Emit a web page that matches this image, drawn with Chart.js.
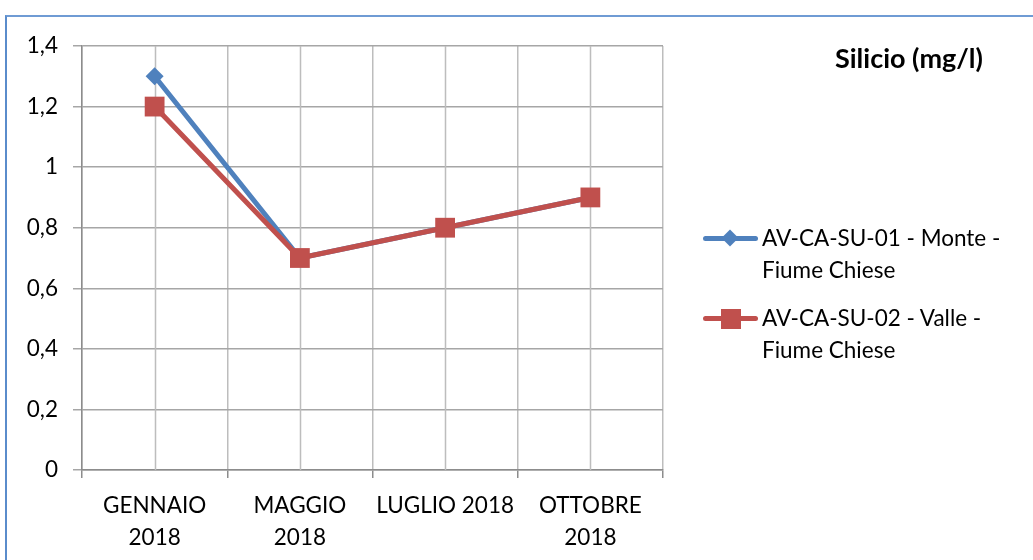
<!DOCTYPE html>
<html>
<head>
<meta charset="utf-8">
<script src="https://cdn.jsdelivr.net/npm/chart.js@4"></script>
<style>
  body { margin: 0; background: #fff; font-family: Lato, 'Open Sans', sans-serif; }
  #wrap { position: relative; width: 1033px; height: 560px; overflow: hidden; }
  #frame { position: absolute; left: 5px; top: 15px; width: 1100px; height: 600px;
           border-left: 2px solid #5a8ccb; border-top: 2px solid #6f9bd4; }
  #grafik { position: absolute; left: 0; top: 0; }
  #titolo { position: absolute; left: 759px; top: 41px; width: 300px; text-align: center;
            font-size: 27px; font-weight: bold; color: #000; }
  .leg { position: absolute; left: 703px; font-size: 22.5px; line-height: 32px; color: #000; }
  .leg .linea { position: absolute; left: 0; top: 14px; width: 55px; height: 5px; border-radius: 3px; }
  .leg .mark { position: absolute; }
  .leg .testo { margin-left: 59px; white-space: nowrap; }
</style>
</head>
<body>
<div id="wrap">
  <div id="frame"></div>
  <canvas id="grafik" width="1033" height="560"></canvas>
  <div id="titolo">Silicio (mg/l)</div>
  <div class="leg" style="top:222px">
    <div class="linea" style="background:#4f81bd"></div>
    <div class="mark" style="left:21px;top:10px;width:12px;height:12px;background:#4f81bd;transform:rotate(45deg)"></div>
    <div class="testo" id="leg1"></div>
  </div>
  <div class="leg" style="top:302px">
    <div class="linea" style="background:#c0504d"></div>
    <div class="mark" style="left:18px;top:7px;width:20px;height:20px;background:#c0504d"></div>
    <div class="testo" id="leg2"></div>
  </div>
</div>
<script>
// Dati
const categorie = [['GENNAIO', '2018'], ['MAGGIO', '2018'], 'LUGLIO 2018', ['OTTOBRE', '2018']];
const nomeMonte = ['AV-CA-SU-01 - Monte -', 'Fiume Chiese'];
const nomeValle = ['AV-CA-SU-02 - Valle -', 'Fiume Chiese'];
const valoriMonte = [1.3, 0.7, 0.8, 0.9];
const valoriValle = [1.2, 0.7, 0.8, 0.9];
const yTicks = [0, 0.2, 0.4, 0.6, 0.8, 1, 1.2, 1.4];
const yTickLabels = ['0', '0,2', '0,4', '0,6', '0,8', '1', '1,2', '1,4'];

document.getElementById('leg1').innerHTML = nomeMonte.join('<br>');
document.getElementById('leg2').innerHTML = nomeValle.join('<br>');

// linee verticali al centro di ogni categoria
const lineeCentro = {
    id: 'lineeCentro',
    beforeDatasetsDraw(chart) {
        const { ctx, chartArea, scales } = chart;
        ctx.save();
        ctx.strokeStyle = '#bdbdbd';
        ctx.lineWidth = 1.5;
        categorie.forEach((c, i) => {
            const x = Math.round(scales.x.getPixelForValue(i)) + 0.5;
            ctx.beginPath();
            ctx.moveTo(x, chartArea.top);
            ctx.lineTo(x, chartArea.bottom);
            ctx.stroke();
        });
        ctx.restore();
    }
};

const ctx = document.getElementById('grafik').getContext('2d');
new Chart(ctx, {
    type: 'line',
    data: {
        labels: categorie,
        datasets: [{
            label: nomeValle.join(' '),
            data: valoriValle,
            borderColor: '#c0504d',
            backgroundColor: '#c0504d',
            borderWidth: 5,
            pointStyle: 'rect',
            pointRadius: 14,
            pointBorderWidth: 0,
            tension: 0,
            order: 1
        }, {
            label: nomeMonte.join(' '),
            data: valoriMonte,
            borderColor: '#4f81bd',
            backgroundColor: '#4f81bd',
            borderWidth: 5,
            pointStyle: 'rectRot',
            pointRadius: 9,
            pointBorderWidth: 0,
            tension: 0,
            order: 2
        }]
    },
    options: {
        responsive: false,
        animation: false,
        layout: { padding: { left: 0, top: 46, right: 370, bottom: 0 } },
        plugins: { legend: { display: false }, tooltip: { enabled: false } },
        scales: {
            x: {
                type: 'category',
                offset: true,
                grid: { offset: true, color: '#bdbdbd', lineWidth: 1.5, tickLength: 8, tickColor: '#8c8c8c' },
                border: { color: '#8c8c8c', width: 1.5 },
                ticks: {
                    color: '#000', autoSkip: false, maxRotation: 0, minRotation: 0,
                    padding: 11, font: { family: 'Lato', size: 22.5, lineHeight: 1.45 }
                },
                afterFit(scale) { scale.height = 90; }
            },
            y: {
                min: 0, max: 1.4,
                afterBuildTicks(scale) { scale.ticks = yTicks.map(v => ({ value: v })); },
                grid: { color: '#a6a6a6', lineWidth: 1.5, tickLength: 9 },
                border: { color: '#8c8c8c', width: 1.5 },
                ticks: {
                    color: '#000', padding: 15,
                    font: { family: 'Lato', size: 22.5 },
                    callback: (v) => yTickLabels[yTicks.indexOf(Math.round(v * 10) / 10)]
                },
                afterFit(scale) { scale.width = 82; }
            }
        }
    },
    plugins: [lineeCentro]
});
</script>
</body>
</html>
